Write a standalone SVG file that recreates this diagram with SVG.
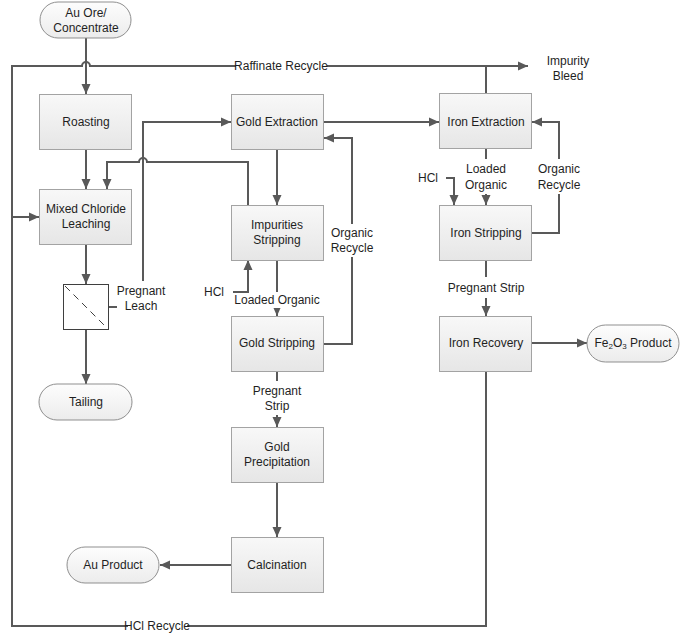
<svg xmlns="http://www.w3.org/2000/svg" width="685" height="642" viewBox="0 0 685 642">
<defs>
<linearGradient id="boxg" x1="0" y1="0" x2="0" y2="1"><stop offset="0" stop-color="#f8f8f8"/><stop offset="1" stop-color="#e6e6e6"/></linearGradient>
<linearGradient id="pillg" x1="0" y1="0" x2="0" y2="1"><stop offset="0" stop-color="#fdfdfd"/><stop offset="1" stop-color="#ececec"/></linearGradient>
<marker id="ah" markerUnits="userSpaceOnUse" markerWidth="11" markerHeight="10" refX="10" refY="5" orient="auto"><path d="M0,0.5 L10,5 L0,9.5 z" fill="#595959"/></marker>
<marker id="ahs" markerUnits="userSpaceOnUse" markerWidth="9" markerHeight="8" refX="8" refY="4" orient="auto"><path d="M0,0.5 L8,4 L0,7.5 z" fill="#595959"/></marker>
</defs>
<style>
.box{fill:url(#boxg);stroke:#a3a3a3;stroke-width:1}
.pill{fill:url(#pillg);stroke:#8f8f8f;stroke-width:1}
.c{fill:none;stroke:#595959;stroke-width:2}
.a{marker-end:url(#ah)}
.as{marker-end:url(#ahs)}
text{font-family:"Liberation Sans",Arial,sans-serif;font-size:12px;fill:#1f1f1f;text-anchor:middle;dominant-baseline:central}
</style>
<rect width="685" height="642" fill="#ffffff"/>
<g id="connectors">
<!-- feed -->
<path class="c a" d="M86,38 V94"/>
<path class="c a" d="M86,149 V189"/>
<!-- raffinate recycle -->
<path class="c" d="M486,93 V66 H327 M236,66 H90 A4,4 0 0 0 82,66 H12 V626 H128 M187,626 H486 V371"/>
<path class="c a" d="M486,66 H528"/>
<path class="c a" d="M12,217 H39"/>
<!-- impurities stripping aqueous to leach -->
<path class="c" d="M248,205 V162 H147 A4,4 0 0 0 139,162 H107"/>
<path class="c a" d="M107,161 V189"/>
<!-- leach to filter -->
<path class="c a" d="M86,244 V284"/>
<path class="c a" d="M86,329 V384"/>
<!-- pregnant leach -->
<path class="c" d="M108,307 H117"/>
<path class="c a" d="M143,281 V122 H231"/>
<!-- gold circuit -->
<path class="c a" d="M277,149 V205"/>
<path class="c a" d="M324,122 H439"/>
<path class="c" d="M277,260 V292"/>
<path class="c as" d="M277,308 V316"/>
<path class="c a" d="M233,292 H248 V260"/>
<path class="c" d="M324,344 H352 V257"/>
<path class="c a" d="M352,224 V138 H324"/>
<path class="c" d="M277,371 V381"/>
<path class="c a" d="M277,415 V427"/>
<path class="c a" d="M277,482 V537"/>
<path class="c a" d="M232,565 H160"/>
<!-- iron circuit -->
<path class="c" d="M486,149 V159"/>
<path class="c a" d="M486,194 V205"/>
<path class="c a" d="M446,178 H454 V205"/>
<path class="c" d="M532,233 H559 V194"/>
<path class="c a" d="M559,159 V122 H532"/>
<path class="c" d="M486,260 V277"/>
<path class="c a" d="M486,298 V316"/>
<path class="c a" d="M532,343 H587"/>
</g>
<g id="labels">
<text x="281" y="66">Raffinate Recycle</text>
<text x="568" y="61">Impurity</text>
<text x="568" y="76">Bleed</text>
<text x="141" y="291">Pregnant</text>
<text x="141" y="306">Leach</text>
<text x="214" y="292">HCl</text>
<text x="277" y="300">Loaded Organic</text>
<text x="352" y="233">Organic</text>
<text x="352" y="248">Recycle</text>
<text x="277" y="391">Pregnant</text>
<text x="277" y="406">Strip</text>
<text x="428" y="178">HCl</text>
<text x="486" y="169">Loaded</text>
<text x="486" y="185">Organic</text>
<text x="559" y="169">Organic</text>
<text x="559" y="185">Recycle</text>
<text x="486" y="288">Pregnant Strip</text>
<text x="157" y="626">HCl Recycle</text>
</g>
<g id="n-ore"><rect class="pill" x="40" y="2" width="91" height="36" rx="18"/><text x="86" y="13">Au Ore/</text><text x="86" y="28">Concentrate</text></g>
<g id="n-roasting"><rect class="box" x="39.5" y="94.5" width="92" height="55"/><text x="86" y="122">Roasting</text></g>
<g id="n-leach"><rect class="box" x="39.5" y="189.5" width="92" height="55"/><text x="86" y="209">Mixed Chloride</text><text x="86" y="224">Leaching</text></g>
<g id="n-filter"><rect x="63.5" y="284.5" width="45" height="45" fill="#ffffff" stroke="#3f3f3f" stroke-width="1"/><path d="M65,286 L107,328" stroke="#3f3f3f" stroke-width="1" stroke-dasharray="7,5" fill="none"/></g>
<g id="n-tailing"><rect class="pill" x="39" y="384" width="93" height="36" rx="18"/><text x="86" y="402">Tailing</text></g>
<g id="n-goldext"><rect class="box" x="231.5" y="94.5" width="92" height="55"/><text x="277" y="122">Gold Extraction</text></g>
<g id="n-impstrip"><rect class="box" x="231.5" y="205.5" width="92" height="55"/><text x="277" y="225">Impurities</text><text x="277" y="240">Stripping</text></g>
<g id="n-goldstrip"><rect class="box" x="231.5" y="316.5" width="92" height="55"/><text x="277" y="343">Gold Stripping</text></g>
<g id="n-goldprec"><rect class="box" x="231.5" y="427.5" width="92" height="55"/><text x="277" y="447">Gold</text><text x="277" y="462">Precipitation</text></g>
<g id="n-calc"><rect class="box" x="231.5" y="537.5" width="92" height="55"/><text x="277" y="565">Calcination</text></g>
<g id="n-auprod"><rect class="pill" x="67" y="547" width="92" height="36" rx="18"/><text x="113" y="565">Au Product</text></g>
<g id="n-ironext"><rect class="box" x="439.5" y="93.5" width="92" height="55"/><text x="486" y="122">Iron Extraction</text></g>
<g id="n-ironstrip"><rect class="box" x="439.5" y="205.5" width="92" height="55"/><text x="486" y="233">Iron Stripping</text></g>
<g id="n-ironrec"><rect class="box" x="439.5" y="316.5" width="92" height="55"/><text x="486" y="343">Iron Recovery</text></g>
<g id="n-fe2o3"><rect class="pill" x="587" y="325" width="92" height="37" rx="18.5"/><text x="633" y="343">Fe<tspan font-size="8" dy="3">2</tspan><tspan dy="-3">O</tspan><tspan font-size="8" dy="3">3</tspan><tspan dy="-3"> Product</tspan></text></g>
</svg>
